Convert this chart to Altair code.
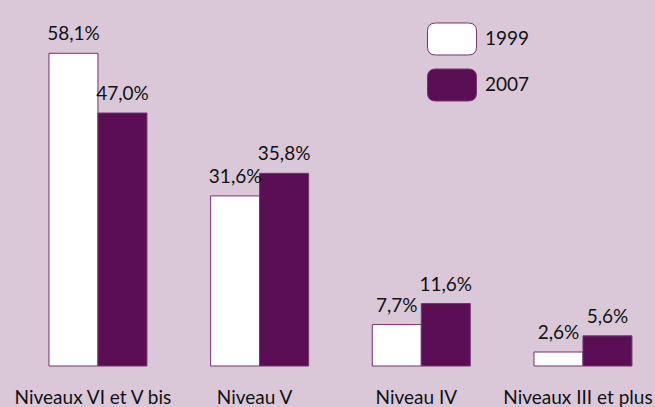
import altair as alt
import pandas as pd

categories = ["Niveaux VI et V bis", "Niveau V", "Niveau IV", "Niveaux III et plus"]
years = ["1999", "2007"]
values_1999 = [58.1, 31.6, 7.7, 2.6]
values_2007 = [47.0, 35.8, 11.6, 5.6]
labels_1999 = ["58,1%", "31,6%", "7,7%", "2,6%"]
labels_2007 = ["47,0%", "35,8%", "11,6%", "5,6%"]

rows = []
for c, v, l in zip(categories, values_1999, labels_1999):
    rows.append({"cat": c, "year": "1999", "value": v, "label": l})
for c, v, l in zip(categories, values_2007, labels_2007):
    rows.append({"cat": c, "year": "2007", "value": v, "label": l})
df = pd.DataFrame(rows)

FONT = "Lato"
DARK = "#5a0e54"
EDGE = "#74346e"
BG = "#dac8d9"

rr = ("M -0.67,-0.653 L 0.67,-0.653 Q 1,-0.653 1,-0.32 L 1,0.32 Q 1,0.653 0.67,0.653 "
      "L -0.67,0.653 Q -1,0.653 -1,0.32 L -1,-0.32 Q -1,-0.653 -0.67,-0.653 Z")

x = alt.X("cat:N", sort=categories, title=None,
          scale=alt.Scale(paddingInner=0.394, paddingOuter=0.2227, align=0.68),
          axis=alt.Axis(domain=False, ticks=False, tickSize=0, labelPadding=22,
                        labelOffset=-5,
                        labelFont=FONT, labelFontSize=19, labelColor="#111111",
                        labelAngle=0, grid=False))
xo = alt.XOffset("year:N", sort=years, scale=alt.Scale(paddingInner=0, paddingOuter=0))
y = alt.Y("value:Q", scale=alt.Scale(domain=[0, 68]), axis=None)

bars = alt.Chart(df).mark_bar(stroke=EDGE, strokeWidth=1).encode(
    x=x, xOffset=xo, y=y,
    color=alt.Color("year:N", sort=years,
                    scale=alt.Scale(domain=years, range=["#ffffff", DARK]),
                    legend=alt.Legend(title=None, orient="none", legendX=427, legendY=14,
                                      symbolType=rr, symbolSize=2401,
                                      symbolStrokeColor=EDGE, symbolStrokeWidth=1,
                                      symbolFillColor="#ffffff",
                                      labelFont=FONT, labelFontSize=19, labelColor="#111111",
                                      labelOffset=8, rowPadding=3)),
)

text = alt.Chart(df).mark_text(baseline="bottom", dy=-9, font=FONT, fontSize=19,
                               color="#111111").encode(
    x=alt.X("cat:N", sort=categories), xOffset=xo, y=y, text="label:N")

chart = alt.layer(bars, text).properties(
    width=655, height=366,
    padding={"left": 0, "top": 0, "right": 0, "bottom": 41},
    autosize=alt.AutoSizeParams(type="none"),
    background=BG,
).configure_view(stroke=None)

chart.save("out.html", embed_options={"renderer": "svg", "actions": False})
